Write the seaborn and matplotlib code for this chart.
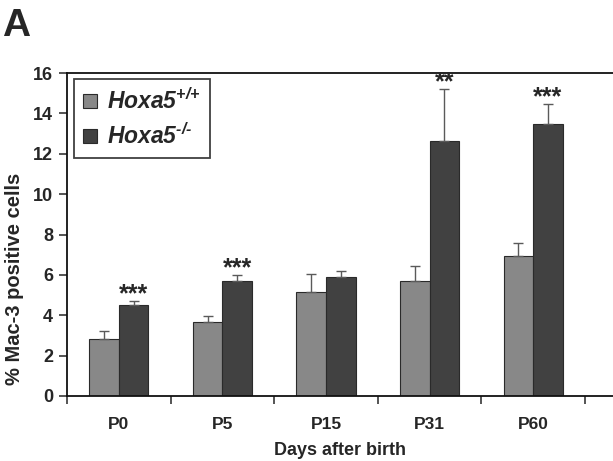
import numpy as np
import pandas as pd
import seaborn as sns
import matplotlib.pyplot as plt

# -------------------------------
# DATA
# -------------------------------
days = ["P0", "P5", "P15", "P31", "P60"]
wt_mean = [2.82, 3.68, 5.15, 5.70, 6.93]
wt_err = [0.38, 0.27, 0.90, 0.72, 0.64]
ko_mean = [4.52, 5.68, 5.90, 12.62, 13.50]
ko_err = [0.17, 0.30, 0.30, 2.58, 0.96]
stars = ["***", "***", "", "**", "***"]
genotypes = ["Hoxa5 +/+", "Hoxa5 -/-"]
legend_labels = [r"$Hoxa5^{\text{+/+}}$", r"$Hoxa5^{\text{-/-}}$"]
bar_colors = ["#888888", "#414141"]

df = pd.DataFrame({
    "day": days * 2,
    "genotype": [genotypes[0]] * len(days) + [genotypes[1]] * len(days),
    "value": wt_mean + ko_mean,
})

# -------------------------------
# STYLE
# -------------------------------
sns.set_style("ticks")
plt.rcParams["font.family"] = ["Liberation Sans", "DejaVu Sans"]
plt.rcParams["font.weight"] = "bold"
plt.rcParams["mathtext.fontset"] = "custom"
plt.rcParams["mathtext.it"] = "Liberation Sans:italic:bold"
plt.rcParams["mathtext.rm"] = "Liberation Sans:italic:bold"

fig = plt.figure(figsize=(6.13, 4.61), dpi=100)
ax = fig.add_axes([0.1093, 0.141, 0.8907, 0.7005])

sns.barplot(data=df, x="day", y="value", hue="genotype", order=days,
            hue_order=genotypes, palette=bar_colors, errorbar=None,
            width=0.57, edgecolor="#2a2a2a", linewidth=0.8, ax=ax)

# upward-only error bars
for cont, err in zip(ax.containers, [wt_err, ko_err]):
    xs = [p.get_x() + p.get_width() / 2 for p in cont.patches]
    ys = [p.get_height() for p in cont.patches]
    ax.errorbar(xs, ys, yerr=[np.zeros(len(err)), err], fmt="none",
                ecolor="#5a5a5a", elinewidth=1.0, capsize=3.5, capthick=1.0)

# significance stars above the knockout bars
ko_patches = ax.containers[1].patches
for p, m, e, s in zip(ko_patches, ko_mean, ko_err, stars):
    if s:
        ax.text(p.get_x() + p.get_width() / 2, m + e, s,
                ha="center", va="baseline", fontsize=18, fontweight="bold")

# axes
ax.set_ylim(0, 16)
ax.set_yticks(range(0, 17, 2))
ax.set_xlim(-0.5, 4.77)
ax.set_xticks(range(len(days)))
ax.set_xticklabels(days)
ax.set_xticks(np.arange(-0.5, 4.6, 1.0), minor=True)
ax.tick_params(axis="x", which="major", length=0, pad=15, labelsize=12.5)
ax.tick_params(axis="x", which="minor", length=6, width=1.1, direction="out")
ax.tick_params(axis="y", length=6, width=1.1, direction="out", labelsize=13, pad=4)
for lab in ax.get_xticklabels() + ax.get_yticklabels():
    lab.set_fontweight("bold")

for side in ["left", "bottom", "top"]:
    ax.spines[side].set_visible(True)
    ax.spines[side].set_linewidth(1.3)
    ax.spines[side].set_color("#111111")
ax.spines["right"].set_visible(False)

ax.set_xlabel("Days after birth", fontsize=13, fontweight="bold", labelpad=7)
ax.set_ylabel("% Mac-3 positive cells", fontsize=14.5, fontweight="bold")
ax.yaxis.set_label_coords(-0.078, 0.362)

handles = ax.get_legend_handles_labels()[0]
leg = ax.legend(handles, legend_labels, loc="upper left",
                bbox_to_anchor=(0.013, 0.981), borderaxespad=0, frameon=True,
                fancybox=False, edgecolor="#111111", fontsize=16.5,
                handlelength=0.6, handleheight=0.6, handletextpad=0.45,
                labelspacing=0.4, borderpad=0.4)
leg.get_frame().set_linewidth(1.3)

fig.text(0.004, 0.982, "A", fontsize=28, fontweight="bold", ha="left", va="top")

plt.savefig("out.png", dpi=100)
